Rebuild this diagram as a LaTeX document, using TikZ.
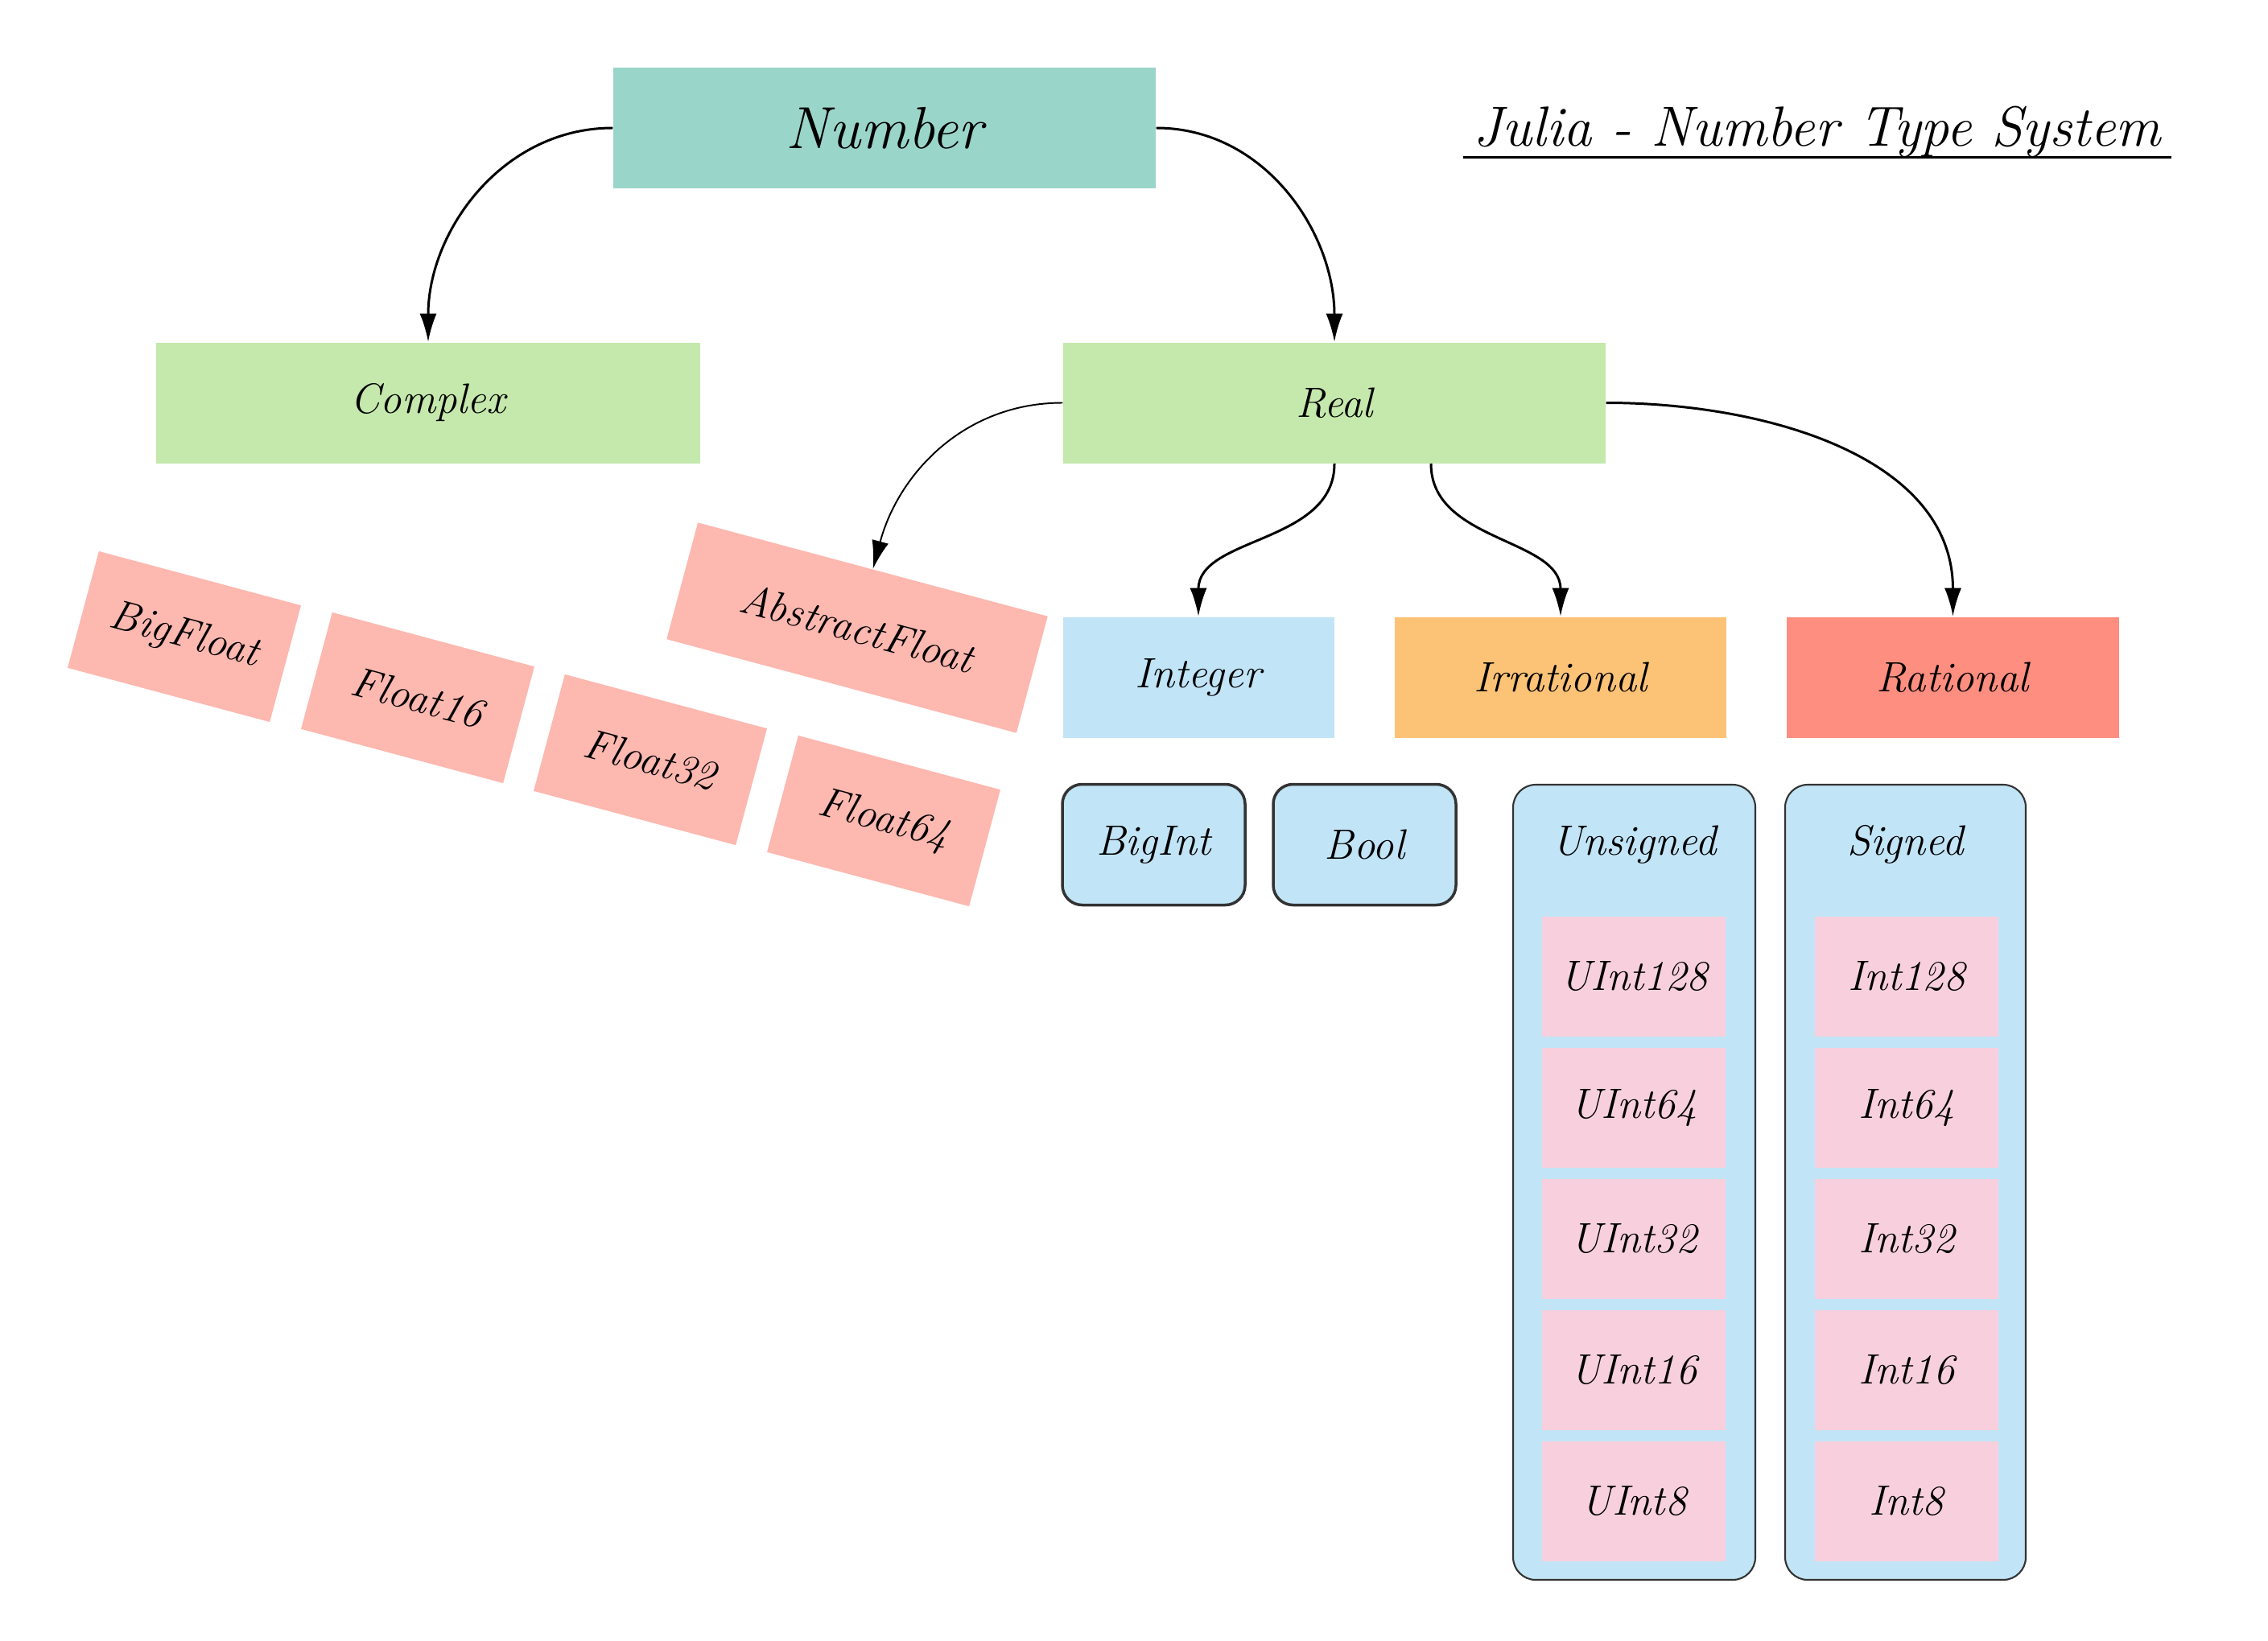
\documentclass[tikz,border=0pt]{standalone}
\usepackage{xcolor}
\definecolor{jlnumber}{RGB}{154,213,202}
\definecolor{jlreal}{RGB}{197,232,172}
\definecolor{jlfloat}{RGB}{253,184,176}
\definecolor{jlint}{RGB}{193,228,246}
\definecolor{jlirr}{RGB}{252,195,119}
\definecolor{jlrat}{RGB}{254,142,127}
\definecolor{jlleaf}{RGB}{248,208,221}
\definecolor{jledge}{RGB}{51,51,51}
\usepackage{tikz}
\usetikzlibrary{arrows.meta, positioning}

\begin{document}
\begin{tikzpicture}[
  typebox/.style={minimum height=1.5cm, inner sep=0pt, font=\fontsize{15}{18}\selectfont\itshape},
  floatbox/.style={typebox, fill=jlfloat, rotate=-15},
  leafbox/.style={typebox, fill=jlleaf, minimum width=2.28cm, minimum height=1.49cm},
  intbox/.style={typebox, draw=jledge, fill=jlint, rounded corners=7pt, line width=1pt, minimum width=2.27cm},
  groupbox/.style={draw=jledge, fill=jlint, rounded corners=8pt, line width=0.6pt, minimum height=9.88cm},
  edge/.style={-{Latex[length=10pt,width=6pt]}, line width=0.85pt},
]
  \useasboundingbox (0,0) rectangle (28.18,-20.38);

  % title
  \node[font=\fontsize{20}{24}\selectfont\itshape] (title) at (22.58,-1.64) {Julia - Number Type System};
  \draw[line width=1pt] ([yshift=-4pt]title.base west) -- ([yshift=-4pt]title.base east);

  % abstract types
  \node[typebox, fill=jlnumber, minimum width=6.74cm, font=\fontsize{21}{24}\selectfont\itshape] (number) at (10.99,-1.59) {Number};
  \node[typebox, fill=jlreal, minimum width=6.76cm] (complex) at (5.32,-5.005) {Complex};
  \node[typebox, fill=jlreal, minimum width=6.74cm] (real) at (16.58,-5.005) {Real};
  \node[typebox, fill=jlint, minimum width=3.37cm] (integer) at (14.89,-8.415) {Integer};
  \node[typebox, fill=jlirr, minimum width=4.12cm] (irrational) at (19.39,-8.415) {Irrational};
  \node[typebox, fill=jlrat, minimum width=4.13cm] (rational) at (24.265,-8.415) {Rational};

  % floats
  \node[floatbox, minimum width=4.50cm] (absfloat) at (10.65,-7.80) {AbstractFloat};
  \node[floatbox, minimum width=2.60cm] (bigfloat) at (2.29,-7.91) {BigFloat};
  \node[floatbox, minimum width=2.60cm] (float16) at (5.19,-8.67) {Float16};
  \node[floatbox, minimum width=2.60cm] (float32) at (8.08,-9.44) {Float32};
  \node[floatbox, minimum width=2.60cm] (float64) at (10.98,-10.20) {Float64};

  % integers
  \node[intbox] (bigint) at (14.335,-10.495) {BigInt};
  \node[intbox] (bool) at (16.955,-10.495) {Bool};
  \node[groupbox, minimum width=3.01cm] (unsigned) at (20.305,-14.69) {};
  \node[groupbox, minimum width=2.99cm] (signed) at (23.675,-14.69) {};
  \node[typebox, below=0pt of unsigned.north] (unsignedlbl) {Unsigned};
  \node[typebox, below=0pt of signed.north] (signedlbl) {Signed};
  \foreach \bits [count=\i] in {128,64,32,16,8} {
    \node[leafbox] (u\bits) at (20.30,{-12.135-1.63*(\i-1)}) {UInt\bits};
    \node[leafbox] (s\bits) at (23.69,{-12.135-1.63*(\i-1)}) {Int\bits};
  }

  % subtype arrows
  \draw[edge] (number.west) to[out=180, in=90] (complex.north);
  \draw[edge] (number.east) to[out=0, in=90] (real.north);
  \draw[edge, line width=0.55pt] (real.west) to[out=180, in=75] (absfloat.north);
  \draw[edge] (real.south) to[out=-90, in=90] (integer.north);
  \draw[edge] ([xshift=1.2cm]real.south) to[out=-90, in=90] (irrational.north);
  \draw[edge] (real.east) to[out=0, in=90] (rational.north);
\end{tikzpicture}
\end{document}
